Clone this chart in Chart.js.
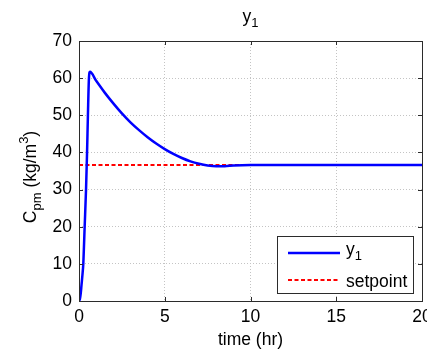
<!DOCTYPE html>
<html>
<head>
<meta charset="utf-8">
<script src="https://cdn.jsdelivr.net/npm/chart.js@4"></script>
<style>
html,body{margin:0;padding:0;background:#fff;}
#wrap{width:427px;height:351px;position:relative;}
</style>
</head>
<body>
<div id="wrap"><canvas id="c" width="427" height="351"></canvas></div>
<script>
// ---- data ----
const timeHr = [0,0.05,0.1,0.15,0.2,0.25,0.33,0.41,0.47,0.52,0.58,0.64,1,1.5,2,2.5,3,3.5,4,4.5,5,5.5,6,6.5,7,7.5,8,8.5,9,10,12,14,16,18,20];
const y1Values = [0,0.5,2,4.5,7,10,20,30,40,50,60,61.7,59.3,56.1,53.2,50.5,48.1,46,44.1,42.4,40.9,39.6,38.5,37.6,36.95,36.5,36.3,36.3,36.5,36.6,36.6,36.6,36.6,36.6,36.6];
const setpointValue = 36.6;
const xTicks = [0,5,10,15,20];
const yTicks = [0,10,20,30,40,50,60,70];
const seriesNames = ['y', 'setpoint'];

const FONT = '"Liberation Sans", Arial, Helvetica, sans-serif';
const FS = 17.5;

const y1Data = timeHr.map((t,i)=>({x:t,y:y1Values[i]}));
const spData = [{x:xTicks[0],y:setpointValue},{x:xTicks[xTicks.length-1],y:setpointValue}];

function drawRich(ctx, parts, x, y, align){
  const sizes = {n:FS, sub:13, sup:13};
  const offs = {n:0, sub:5, sup:-8};
  let w = 0;
  parts.forEach(p=>{ctx.font = sizes[p.m||'n']+'px '+FONT; p.w = ctx.measureText(p.t).width; w += p.w;});
  let cx = align==='center' ? x - w/2 : x;
  ctx.textAlign='left'; ctx.textBaseline='alphabetic';
  parts.forEach(p=>{ctx.font = sizes[p.m||'n']+'px '+FONT; ctx.fillText(p.t, cx, y + offs[p.m||'n']); cx += p.w;});
}

const decor = {
  id:'decor',
  afterDraw(chart){
    const ctx = chart.ctx, a = chart.chartArea;
    const xs = chart.scales.x, ys = chart.scales.y;
    ctx.save();
    ctx.strokeStyle = '#2b2b2b'; ctx.lineWidth = 1; ctx.setLineDash([]);
    ctx.strokeRect(Math.round(a.left)+0.5, Math.round(a.top)+0.5, Math.round(a.right-a.left), Math.round(a.bottom-a.top));
    const tl = 4;
    ctx.beginPath();
    xTicks.forEach(v=>{const px=Math.round(xs.getPixelForValue(v))+0.5;
      ctx.moveTo(px,a.bottom); ctx.lineTo(px,a.bottom-tl);
      ctx.moveTo(px,a.top); ctx.lineTo(px,a.top+tl);});
    yTicks.forEach(v=>{const py=Math.round(ys.getPixelForValue(v))+0.5;
      ctx.moveTo(a.left,py); ctx.lineTo(a.left+tl,py);
      ctx.moveTo(a.right,py); ctx.lineTo(a.right-tl,py);});
    ctx.stroke();
    ctx.fillStyle = '#000';
    drawRich(ctx, [{t:'y'},{t:'1',m:'sub'}], (a.left+a.right)/2, 22, 'center');
    drawRich(ctx, [{t:'time (hr)'}], (a.left+a.right)/2, 345, 'center');
    ctx.save();
    ctx.translate(36, (a.top+a.bottom)/2 + 6);
    ctx.rotate(-Math.PI/2);
    drawRich(ctx, [{t:'C'},{t:'pm',m:'sub'},{t:' (kg/m'},{t:'3',m:'sup'},{t:')'}], 0, 0, 'center');
    ctx.restore();
    // legend
    const lx=277, ly=236, lw=136, lh=57;
    ctx.fillStyle='#fff'; ctx.fillRect(lx,ly,lw,lh);
    ctx.strokeStyle='#2b2b2b'; ctx.lineWidth=1; ctx.strokeRect(lx+0.5,ly+0.5,lw,lh);
    const ds = chart.data.datasets;
    ctx.lineWidth = ds[0].borderWidth; ctx.strokeStyle = ds[0].borderColor; ctx.setLineDash([]);
    ctx.beginPath(); ctx.moveTo(288,253); ctx.lineTo(340,253); ctx.stroke();
    ctx.lineWidth = ds[1].borderWidth; ctx.strokeStyle = ds[1].borderColor; ctx.setLineDash(ds[1].borderDash);
    ctx.beginPath(); ctx.moveTo(288,280); ctx.lineTo(340,280); ctx.stroke();
    ctx.setLineDash([]);
    ctx.fillStyle='#000';
    drawRich(ctx, [{t:seriesNames[0]},{t:'1',m:'sub'}], 346, 255, 'left');
    drawRich(ctx, [{t:seriesNames[1]}], 346, 287, 'left');
    ctx.restore();
  }
};

new Chart(document.getElementById('c'), {
  type:'line',
  data:{datasets:[
    {label:'y1', data:y1Data, borderColor:'#0000ff', borderWidth:2.5, pointRadius:0, fill:false, cubicInterpolationMode:'monotone'},
    {label:'setpoint', data:spData, borderColor:'#ff0000', borderWidth:2, borderDash:[4,2.5], pointRadius:0, fill:false}
  ]},
  options:{
    responsive:false, animation:false, devicePixelRatio:1,
    layout:{padding:{left:0,right:5,top:41,bottom:0}},
    plugins:{legend:{display:false}, title:{display:false}, tooltip:{enabled:false}},
    scales:{
      x:{type:'linear', min:0, max:20,
        afterBuildTicks(s){s.ticks = xTicks.map(v=>({value:v}));},
        afterFit(s){s.height=50; s.paddingLeft=0; s.paddingRight=0;},
        ticks:{font:{family:FONT,size:FS}, color:'#000', padding:6, maxRotation:0, autoSkip:false},
        grid:{color:'#c4c4c4', lineWidth:1, drawTicks:false},
        border:{display:false, dash:[1,2]}
      },
      y:{type:'linear', min:0, max:70,
        afterBuildTicks(s){s.ticks = yTicks.map(v=>({value:v}));},
        afterFit(s){s.width=79; s.paddingTop=0; s.paddingBottom=0;},
        ticks:{font:{family:FONT,size:FS}, color:'#000', padding:7, autoSkip:false},
        grid:{color:'#c4c4c4', lineWidth:1, drawTicks:false},
        border:{display:false, dash:[1,2]}
      }
    }
  },
  plugins:[decor]
});
</script>
</body>
</html>
